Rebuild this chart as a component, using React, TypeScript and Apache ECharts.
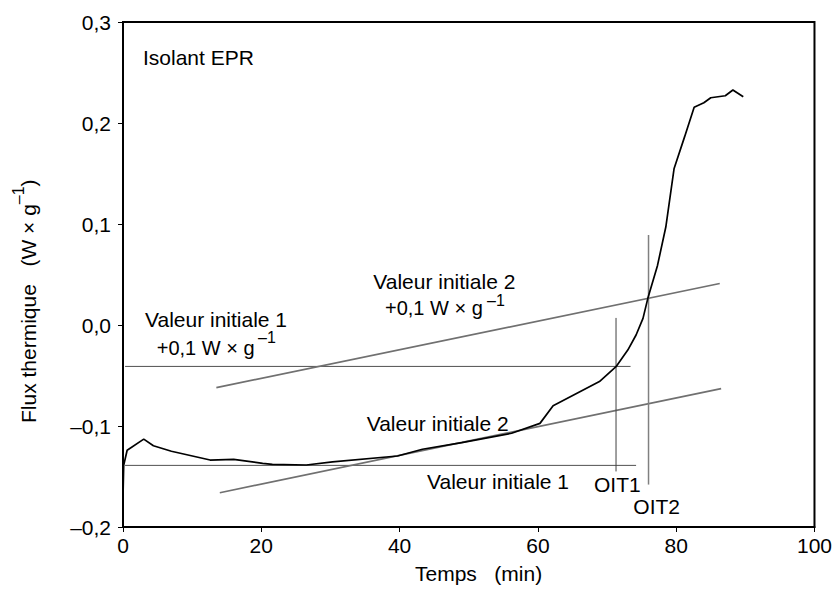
import React, { useEffect, useRef } from "react";
import * as echarts from "echarts";

// Measured DSC curve
const timeMin = [0, 0.1, 0.6, 3.0, 4.4, 7.0, 12.6, 16.0, 20.2, 21.6, 26.5, 30.3, 39.7, 43.3, 49.0, 56.2, 60.3, 62.2, 68.9, 71.3, 73.0, 74.2, 75.2, 75.9, 77.3, 78.5, 79.7, 81.2, 82.6, 84.0, 85.0, 87.1, 88.2, 89.7];
const fluxW = [-0.170, -0.139, -0.124, -0.113, -0.1195, -0.125, -0.1337, -0.133, -0.137, -0.138, -0.1386, -0.1356, -0.1297, -0.123, -0.1165, -0.1072, -0.0974, -0.080, -0.056, -0.0413, -0.0248, -0.0099, 0.0066, 0.0264, 0.059, 0.097, 0.155, 0.186, 0.2155, 0.220, 0.225, 0.227, 0.2327, 0.226];

// Construction lines
const base1X = [0.3, 74.2];
const base1Y = [-0.139, -0.139];
const base1ShiftX = [0.3, 73.4];
const base1ShiftY = [-0.041, -0.041];
const base2X = [14.0, 86.5];
const base2Y = [-0.166, -0.063];
const base2ShiftX = [13.5, 86.3];
const base2ShiftY = [-0.062, 0.041];
const oit1X = [71.3, 71.3];
const oit1Y = [-0.145, 0.007];
const oit2X = [76.0, 76.0];
const oit2Y = [-0.158, 0.089];

const xTicks = [0, 20, 40, 60, 80, 100];
const yTicks = [-0.2, -0.1, 0.0, 0.1, 0.2, 0.3];

const FONT = "'Liberation Sans', Arial, sans-serif";
const FS = 21;

const pairs = (xs: number[], ys: number[]) => xs.map((x, i) => [x, ys[i]]);

const fmtY = (v: number) => {
  const s = Math.abs(v).toFixed(1).replace(".", ",");
  return v < -1e-9 ? "\u2013" + s : s;
};

const lineSeries = (data: number[][], color: string, width: number) => ({
  type: "line",
  data,
  showSymbol: false,
  symbol: "none",
  silent: true,
  lineStyle: { color, width },
  z: 2,
});

const supRich = {
  n: { fontSize: FS, fontFamily: FONT, lineHeight: 35, fill: "#000", color: "#000" },
  s: { fontSize: 16, fontFamily: FONT, verticalAlign: "top", fill: "#000", color: "#000" },
};

const txt = (x: number, y: number, text: string, size = FS, extra: any = {}, rich = false) => ({
  type: "text",
  x,
  y,
  silent: true,
  ...extra,
  style: {
    text,
    fontSize: size,
    fontFamily: FONT,
    fill: "#000",
    align: "left",
    verticalAlign: "middle",
    ...(rich ? { rich: supRich } : {}),
  },
});

export default function App() {
  const ref = useRef<HTMLDivElement>(null);
  useEffect(() => {
    if (!ref.current) return;
    const chart = echarts.init(ref.current, undefined, { renderer: "svg" });
    chart.setOption({
      animation: false,
      backgroundColor: "#fff",
      grid: {
        left: 123,
        right: 18,
        top: 22,
        bottom: 65,
        show: true,
        borderColor: "#000",
        borderWidth: 2,
        backgroundColor: "transparent",
      },
      xAxis: {
        type: "value",
        min: 0,
        max: 100,
        interval: 20,
        axisLine: { show: true, onZero: false, lineStyle: { color: "#000", width: 2 } },
        axisTick: { show: true, inside: false, length: 5, lineStyle: { color: "#000", width: 1 } },
        axisLabel: {
          margin: 8,
          fontSize: FS,
          fontFamily: FONT,
          color: "#000",
          formatter: (v: number) => (xTicks.includes(v) ? String(v) : ""),
        },
        splitLine: { show: false },
      },
      yAxis: {
        type: "value",
        min: -0.2,
        max: 0.3,
        interval: 0.1,
        axisLine: { show: true, onZero: false, lineStyle: { color: "#000", width: 2 } },
        axisTick: { show: true, inside: false, length: 5, lineStyle: { color: "#000", width: 1 } },
        axisLabel: {
          margin: 12,
          fontSize: FS,
          fontFamily: FONT,
          color: "#000",
          formatter: (v: number) => {
            const t = yTicks.find((k) => Math.abs(k - v) < 1e-6);
            return t === undefined ? "" : fmtY(t);
          },
        },
        splitLine: { show: false },
      },
      series: [
        lineSeries(pairs(base1X, base1Y), "#505050", 1),
        lineSeries(pairs(base1ShiftX, base1ShiftY), "#505050", 1),
        lineSeries(pairs(base2X, base2Y), "#707070", 1.6),
        lineSeries(pairs(base2ShiftX, base2ShiftY), "#707070", 1.6),
        lineSeries(pairs(oit1X, oit1Y), "#404040", 1),
        lineSeries(pairs(oit2X, oit2Y), "#808080", 1.5),
        {
          ...lineSeries(pairs(timeMin, fluxW), "#000000", 1.7),
          z: 3,
        },
      ],
      graphic: [
        txt(143, 57.7, "Isolant EPR"),
        txt(145, 319.4, "Valeur initiale 1"),
        txt(156.7, 347.7, "+0,1 W \u00d7 g", 20),
        txt(258, 337.8, "\u20131", 16),
        txt(373.3, 281, "Valeur initiale 2"),
        txt(385, 307.7, "+0,1 W \u00d7 g", 20),
        txt(487, 300.5, "\u20131", 16),
        txt(366.7, 423.4, "Valeur initiale 2"),
        txt(427, 481, "Valeur initiale 1"),
        txt(594, 484.4, "OIT1"),
        txt(633.3, 506.7, "OIT2"),
        txt(415, 573.4, "Temps   (min)"),
        txt(28, 423, "{n|Flux thermique   (W \u00d7 g}{s|\u20131}{n|)}", FS, { rotation: Math.PI / 2 }, true),
      ],
    });
    return () => chart.dispose();
  }, []);
  return (
    <div
      ref={ref}
      style={{ position: "fixed", left: 0, top: 0, width: 835, height: 592, background: "#fff" }}
    />
  );
}
